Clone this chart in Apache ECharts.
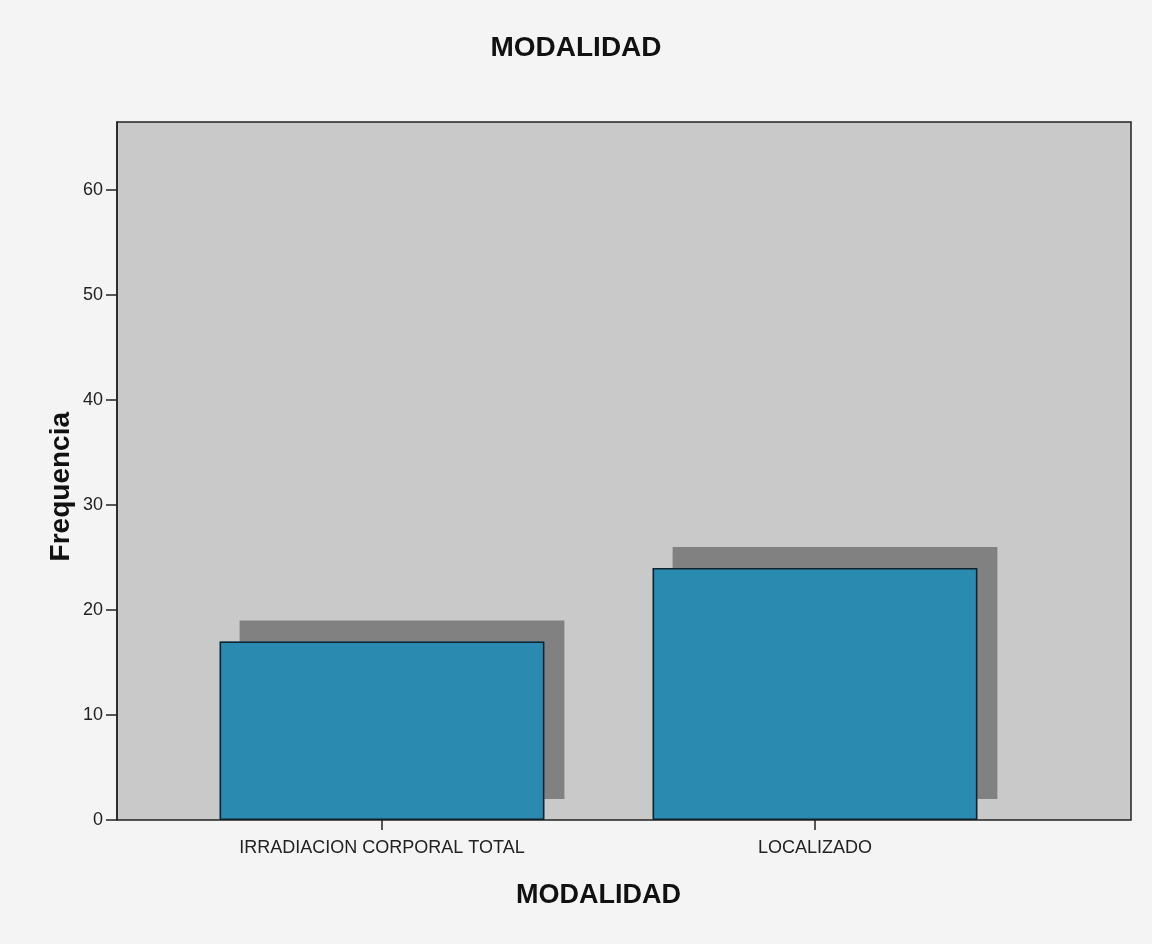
<!DOCTYPE html>
<html>
<head>
<meta charset="utf-8">
<style>
  html, body { margin: 0; padding: 0; background: #f4f4f4; }
  #chart { width: 1152px; height: 944px; }
</style>
<script src="https://cdn.jsdelivr.net/npm/echarts@6/dist/echarts.min.js"></script>
</head>
<body>
<div id="chart"></div>
<script>
// Frequency of each treatment modality
const categories = ['IRRADIACION CORPORAL TOTAL', 'LOCALIZADO'];
const frequencies = [17, 24];
const yTicks = [0, 10, 20, 30, 40, 50, 60];
const yMax = 66.5;

const chart = echarts.init(document.getElementById('chart'), null, { renderer: 'canvas' });

const font = 'Liberation Sans, Arial, sans-serif';

chart.setOption({
  backgroundColor: '#f4f4f4',
  animation: false,
  title: {
    text: 'MODALIDAD',
    left: 'center',
    top: 29,
    textStyle: { fontFamily: font, fontSize: 28, fontWeight: 'bold', color: '#111' }
  },
  graphic: [{
    type: 'text',
    left: 47,
    top: 412,
    rotation: Math.PI / 2,
    style: {
      text: 'Frequencia',
      font: 'bold 28px ' + font,
      fill: '#111'
    }
  }],
  grid: [
    // plot frame
    { left: 117, top: 122, width: 1014, height: 698, show: true,
      backgroundColor: '#c9c9c9', borderColor: '#222', borderWidth: 1.5 },
    // bar area
    { left: 165.5, top: 122, width: 866, height: 698 }
  ],
  xAxis: [
    { type: 'value', gridIndex: 0, show: false, min: 0, max: 1 },
    {
      type: 'category', gridIndex: 1, data: categories,
      boundaryGap: true,
      axisLine: { show: false },
      axisTick: { show: true, alignWithLabel: true, length: 10, inside: false,
        lineStyle: { color: '#222', width: 1.5 } },
      axisLabel: { fontFamily: font, fontSize: 18, color: '#222', margin: 19 },
      name: 'MODALIDAD',
      nameLocation: 'middle',
      nameGap: 62,
      nameTextStyle: { fontFamily: font, fontSize: 27, fontWeight: 'bold', color: '#111' }
    }
  ],
  yAxis: [
    {
      type: 'value', gridIndex: 0, min: 0, max: yMax, interval: 10,
      axisLine: { show: true, lineStyle: { color: '#222', width: 1.5 } },
      axisTick: { show: true, length: 11, customValues: yTicks,
        lineStyle: { color: '#222', width: 1.5 } },
      axisLabel: { fontFamily: font, fontSize: 18, color: '#222', margin: 14,
        customValues: yTicks },
      splitLine: { show: false }
    },
    { type: 'value', gridIndex: 1, min: 0, max: yMax, show: false }
  ],
  series: [
    {
      // filled bars with their offset drop shadow
      type: 'bar',
      xAxisIndex: 1,
      yAxisIndex: 1,
      data: frequencies,
      barWidth: '75%',
      itemStyle: {
        color: '#2a8ab0',
        borderWidth: 0,
        shadowColor: '#818181',
        shadowBlur: 0,
        shadowOffsetX: 20,
        shadowOffsetY: -21
      },
      emphasis: { disabled: true }
    },
    {
      // outlines drawn on top of the filled bars
      type: 'bar',
      xAxisIndex: 1,
      yAxisIndex: 1,
      data: frequencies,
      barWidth: '75%',
      barGap: '-100%',
      itemStyle: {
        color: 'rgba(0,0,0,0)',
        borderColor: '#10222e',
        borderWidth: 1.5
      },
      emphasis: { disabled: true }
    }
  ]
});
</script>
</body>
</html>
